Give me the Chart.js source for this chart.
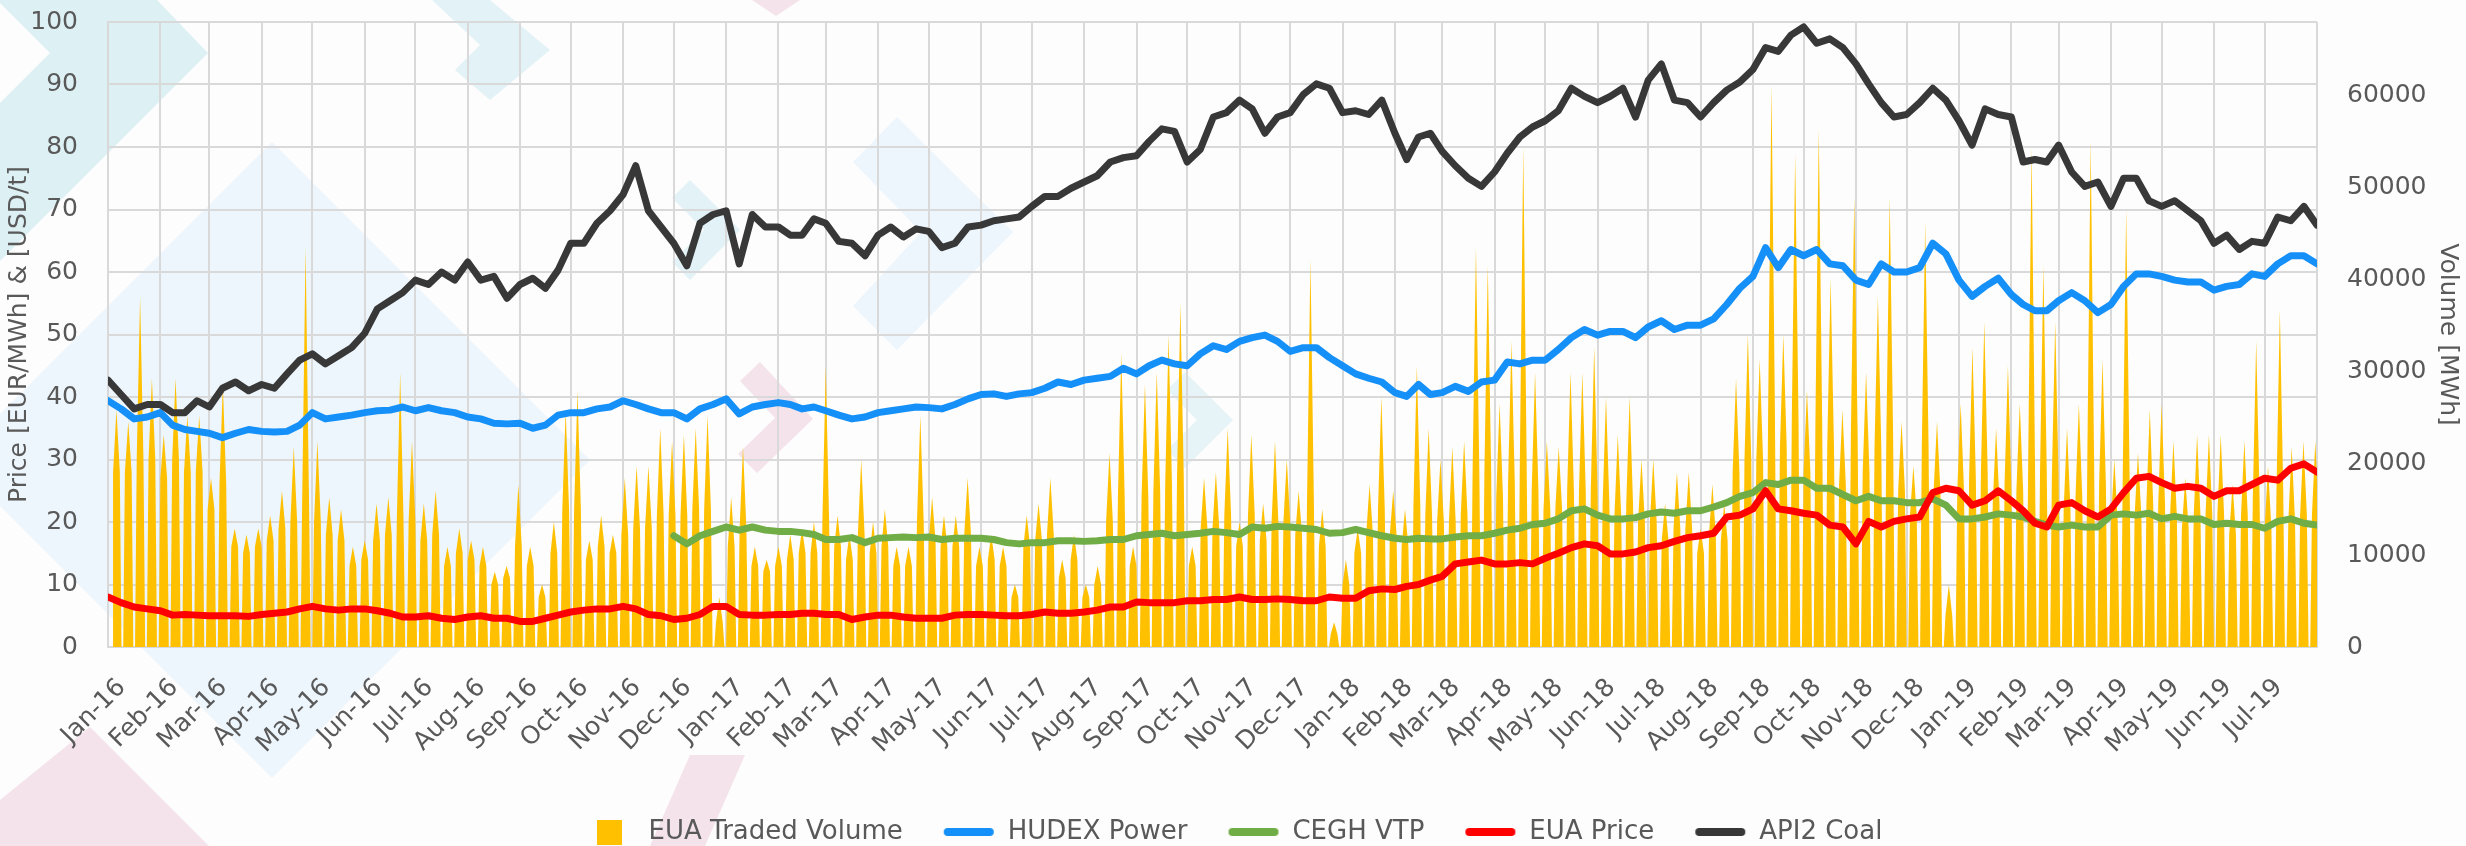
<!DOCTYPE html>
<html>
<head>
<meta charset="utf-8">
<title>EUA, power, gas and coal prices 2016-2019</title>
<script src="https://cdn.jsdelivr.net/npm/chart.js@4.4.1/dist/chart.umd.min.js"></script>
<style>
    html, body { margin: 0; padding: 0; background: #fdfdfd; }
    #wrap { position: relative; width: 2466px; height: 846px; }
</style>
</head>
<body>
<div id="wrap"><canvas id="marketChart"></canvas></div>
<script>
// month tick labels (one per month, Jan-16 .. Jul-19)
const tickLabels = [
    "Jan-16", "Feb-16", "Mar-16", "Apr-16", "May-16", "Jun-16", "Jul-16", "Aug-16", "Sep-16", "Oct-16", "Nov-16", "Dec-16",
    "Jan-17", "Feb-17", "Mar-17", "Apr-17", "May-17", "Jun-17", "Jul-17", "Aug-17", "Sep-17", "Oct-17", "Nov-17", "Dec-17",
    "Jan-18", "Feb-18", "Mar-18", "Apr-18", "May-18", "Jun-18", "Jul-18", "Aug-18", "Sep-18", "Oct-18", "Nov-18", "Dec-18",
    "Jan-19", "Feb-19", "Mar-19", "Apr-19", "May-19", "Jun-19", "Jul-19"
];

const volumeTicks = [0, 10000, 20000, 30000, 40000, 50000, 60000];

// prices, four readings per month (1st, ~8th, ~16th, ~23rd), last one = 1 Aug 2019
const apiCoal = [
    42.7, 40.4, 38.1, 38.8,  38.8, 37.5, 37.5, 39.4,  38.4, 41.4, 42.4, 41.0,  42.0, 41.4, 43.7, 45.9,
    46.9, 45.3, 46.6, 47.9,  50.2, 54.1, 55.4, 56.7,  58.7, 58.0, 60.0, 58.7,  61.6, 58.7, 59.3, 55.8,
    58.0, 59.0, 57.4, 60.3,  64.6, 64.6, 67.8, 69.8,  72.4, 77.0, 69.8, 67.2,  64.6, 61.0, 67.8, 69.2,
    69.8, 61.3, 69.2, 67.2,  67.2, 65.9, 65.9, 68.5,  67.8, 64.9, 64.6, 62.6,  65.9, 67.2, 65.6, 66.9,
    66.5, 63.9, 64.6, 67.2,  67.5, 68.2, 68.5, 68.8,  70.5, 72.1, 72.1, 73.4,  74.4, 75.4, 77.6, 78.3,
    78.6, 80.9, 82.9, 82.5,  77.6, 79.6, 84.8, 85.5,  87.5, 86.1, 82.2, 84.8,  85.5, 88.4, 90.1, 89.4,
    85.5, 85.8, 85.2, 87.5,  82.2, 78.0, 81.6, 82.2,  79.3, 77.0, 75.0, 73.7,  76.0, 79.0, 81.6, 83.2,
    84.2, 85.8, 89.4, 88.1,  87.1, 88.1, 89.4, 84.8,  90.7, 93.3, 87.5, 87.1,  84.8, 87.1, 89.1, 90.4,
    92.4, 95.9, 95.3, 97.9,  99.2, 96.6, 97.3, 95.9,  93.3, 90.1, 87.1, 84.8,  85.2, 87.1, 89.4, 87.5,
    84.2, 80.3, 86.1, 85.2,  84.8, 77.6, 78.0, 77.6,  80.3, 76.0, 73.7, 74.4,  70.5, 75.0, 75.0, 71.4,
    70.5, 71.4, 69.8, 68.2,  64.6, 65.9, 63.6, 64.9,  64.6, 68.8, 68.2, 70.5,
    67.5
];

const hudexPower = [
    39.4, 38.1, 36.5, 36.8,  37.5, 35.5, 34.8, 34.5,  34.2, 33.5, 34.2, 34.8,  34.5, 34.4, 34.5, 35.5,
    37.5, 36.5, 36.8, 37.1,  37.5, 37.8, 37.9, 38.4,  37.8, 38.3, 37.8, 37.5,  36.8, 36.5, 35.8, 35.7,
    35.8, 35.0, 35.5, 37.1,  37.5, 37.5, 38.1, 38.4,  39.4, 38.8, 38.1, 37.5,  37.5, 36.5, 38.1, 38.8,
    39.7, 37.3, 38.4, 38.8,  39.1, 38.8, 38.1, 38.4,  37.8, 37.1, 36.5, 36.8,  37.5, 37.8, 38.1, 38.4,
    38.3, 38.1, 38.8, 39.7,  40.4, 40.5, 40.1, 40.5,  40.7, 41.4, 42.4, 42.0,  42.7, 43.0, 43.3, 44.6,
    43.7, 45.0, 45.9, 45.3,  45.0, 46.9, 48.2, 47.6,  48.9, 49.5, 49.9, 48.9,  47.3, 47.9, 47.9, 46.3,
    45.0, 43.7, 43.0, 42.4,  40.7, 40.1, 42.0, 40.4,  40.7, 41.7, 40.9, 42.4,  42.7, 45.6, 45.3, 45.9,
    45.9, 47.6, 49.5, 50.8,  49.9, 50.5, 50.5, 49.5,  51.2, 52.2, 50.8, 51.5,  51.5, 52.5, 54.8, 57.4,
    59.3, 63.9, 60.7, 63.6,  62.6, 63.6, 61.3, 61.0,  58.7, 58.0, 61.3, 60.0,  60.0, 60.7, 64.6, 62.9,
    58.7, 56.1, 57.7, 59.0,  56.4, 54.8, 53.8, 53.8,  55.4, 56.7, 55.4, 53.5,  54.8, 57.7, 59.7, 59.7,
    59.3, 58.7, 58.4, 58.4,  57.1, 57.7, 58.0, 59.7,  59.3, 61.3, 62.6, 62.6,
    61.3
];

// CEGH VTP is only quoted from December 2016
const ceghVtp = [
    null, null, null, null,  null, null, null, null,  null, null, null, null,  null, null, null, null,
    null, null, null, null,  null, null, null, null,  null, null, null, null,  null, null, null, null,
    null, null, null, null,  null, null, null, null,  null, null, null, null,  17.8, 16.5, 17.8, 18.5,
    19.2, 18.7, 19.2, 18.7,  18.5, 18.5, 18.3, 18.0,  17.2, 17.2, 17.5, 16.7,  17.4, 17.5, 17.6, 17.5,
    17.6, 17.2, 17.4, 17.4,  17.4, 17.2, 16.7, 16.5,  16.7, 16.7, 17.0, 17.0,  16.9, 17.0, 17.2, 17.2,
    17.8, 18.0, 18.2, 17.8,  18.0, 18.2, 18.5, 18.3,  18.0, 19.2, 19.0, 19.3,  19.2, 19.0, 18.8, 18.2,
    18.3, 18.8, 18.3, 17.8,  17.4, 17.2, 17.4, 17.3,  17.3, 17.6, 17.8, 17.8,  18.2, 18.7, 19.0, 19.6,
    19.8, 20.5, 21.8, 22.1,  21.1, 20.5, 20.5, 20.7,  21.3, 21.6, 21.4, 21.8,  21.8, 22.4, 23.1, 24.1,
    24.7, 26.3, 26.0, 26.7,  26.7, 25.4, 25.4, 24.4,  23.4, 24.1, 23.4, 23.4,  23.1, 23.1, 23.7, 22.7,
    20.5, 20.5, 20.8, 21.3,  21.1, 20.8, 20.1, 19.5,  19.2, 19.5, 19.2, 19.2,  21.1, 21.3, 21.1, 21.4,
    20.5, 20.9, 20.5, 20.5,  19.6, 19.8, 19.6, 19.6,  19.0, 20.1, 20.5, 19.8,
    19.5
];

const euaPrice = [
    8.0, 7.1, 6.4, 6.1,  5.8, 5.1, 5.2, 5.1,  5.0, 5.0, 5.0, 4.9,  5.2, 5.4, 5.6, 6.1,
    6.5, 6.1, 5.9, 6.1,  6.1, 5.8, 5.4, 4.8,  4.8, 5.0, 4.6, 4.4,  4.8, 5.0, 4.6, 4.6,
    4.1, 4.1, 4.6, 5.1,  5.6, 5.9, 6.1, 6.1,  6.5, 6.1, 5.2, 5.0,  4.4, 4.6, 5.2, 6.5,
    6.5, 5.2, 5.1, 5.1,  5.2, 5.2, 5.4, 5.4,  5.2, 5.2, 4.4, 4.8,  5.1, 5.1, 4.8, 4.6,
    4.6, 4.6, 5.1, 5.2,  5.2, 5.1, 5.0, 5.0,  5.2, 5.6, 5.4, 5.4,  5.6, 5.9, 6.4, 6.4,
    7.2, 7.1, 7.1, 7.1,  7.4, 7.4, 7.6, 7.6,  8.0, 7.6, 7.6, 7.7,  7.6, 7.4, 7.4, 8.0,
    7.8, 7.8, 9.0, 9.3,  9.2, 9.7, 10.0, 10.7,  11.3, 13.3, 13.6, 13.9,  13.3, 13.3, 13.5, 13.3,
    14.2, 15.0, 15.9, 16.5,  16.2, 14.9, 14.9, 15.2,  15.9, 16.2, 16.9, 17.5,  17.8, 18.2, 20.8, 21.1,
    22.1, 25.0, 22.1, 21.8,  21.4, 21.1, 19.5, 19.2,  16.5, 20.1, 19.2, 20.1,  20.5, 20.8, 24.7, 25.4,
    25.0, 22.7, 23.4, 25.0,  23.4, 21.8, 19.8, 19.2,  22.7, 23.1, 21.8, 20.8,  22.1, 24.7, 27.0, 27.3,
    26.3, 25.4, 25.7, 25.4,  24.1, 25.0, 25.0, 26.0,  27.0, 26.7, 28.6, 29.3,
    28.0
];

// EUA traded volume [MWh], one week per entry starting Mon 4 Jan 2016:
// busiest day of the week and a typical day of the week
const euaVolumeHigh = [
    25800, 24500, 38100, 29200, 23100, 29200, 25200, 25200, 18400, 28600,
    12900, 12200, 12900, 14300, 17000, 21800, 43500, 22400, 16300, 15000,
    10900, 11600, 15600, 16300, 29900, 22400, 15600, 17000, 10900, 12900,
    11600, 10900, 8200, 8800, 17700, 10900, 6800, 13600, 25800, 27900,
    11600, 14300, 12200, 18400, 19700, 19700, 23800, 22400, 23100, 23800,
    25200, 5400, 16300, 21800, 10900, 9500, 10900, 12200, 12900, 13600,
    30600, 14300, 12200, 20400, 13600, 15000, 10900, 10900, 25200, 16300,
    14300, 14300, 18400, 10900, 12200, 10900, 6800, 14300, 15600, 18400,
    9500, 12200, 6800, 8800, 21100, 32000, 10900, 28600, 29900, 34000,
    37400, 10900, 18400, 19000, 23800, 13600, 23100, 15600, 22400, 20400,
    17000, 42200, 15000, 2700, 9500, 12900, 17700, 27200, 17000, 15000,
    30600, 23800, 20400, 21800, 22400, 43500, 41500, 26500, 33300, 54400,
    29900, 22400, 21800, 29900, 29900, 32600, 27200, 23100, 27200, 20400,
    20400, 15600, 19000, 19000, 12900, 17700, 15600, 29200, 34000, 31300,
    61200, 34000, 53700, 27900, 56400, 40100, 25800, 49000, 29900, 38100,
    49000, 24500, 19700, 46200, 24500, 6800, 26500, 32600, 35400, 23800,
    30600, 26500, 54400, 41500, 35400, 23800, 26500, 55100, 31300, 20400,
    47600, 21100, 25800, 26500, 22400, 18400, 23100, 23100, 23100, 17700,
    22400, 33300, 19700, 36700, 21800, 22400, 22400
];

const euaVolumeLow = [
    19000, 19000, 20400, 20400, 18400, 20400, 19000, 19000, 15000, 17700,
    10900, 10200, 10900, 11600, 12900, 13600, 16300, 13600, 12200, 11600,
    8800, 9500, 11600, 12200, 13600, 13600, 11600, 12200, 8800, 10200,
    9500, 8800, 6800, 7500, 10900, 8800, 5400, 10200, 15000, 15000,
    9500, 10900, 10200, 12200, 12900, 12900, 14300, 14300, 14300, 15000,
    15000, 2700, 10900, 12900, 8800, 8200, 8800, 9500, 10200, 10200,
    13600, 10900, 9500, 12200, 10200, 10900, 8800, 8800, 13600, 11600,
    10900, 10900, 12200, 8800, 9500, 8800, 5400, 10900, 11600, 12200,
    7500, 9500, 5400, 6800, 13600, 16300, 8800, 16300, 17000, 17700,
    18400, 8800, 12900, 12900, 14300, 10900, 14300, 11600, 13600, 13600,
    12200, 16300, 10900, 1400, 6800, 10200, 12200, 15000, 12200, 10900,
    15600, 14300, 13600, 13600, 14300, 19000, 19000, 16300, 17700, 20400,
    17000, 15000, 15000, 17000, 17000, 17000, 15600, 14300, 15600, 13600,
    13600, 11600, 12900, 12900, 10200, 12200, 11600, 19000, 20400, 20400,
    25800, 21800, 24500, 19000, 24500, 21800, 17700, 23100, 19000, 21800,
    23100, 17000, 14300, 21800, 17000, 3400, 17000, 18400, 19000, 15600,
    17700, 17000, 20400, 19000, 18400, 15000, 16300, 20400, 17700, 13600,
    19000, 14300, 15600, 15600, 14300, 12900, 14300, 14300, 14300, 12200,
    14300, 16300, 12900, 17000, 13600, 14300, 14300
];

// ---- helpers: x axis is "days since 1 Jan 2016"
const DAY = 86400000;
const ORIGIN = Date.UTC(2016, 0, 1);

function dayOf(y, m, d) {
    return Math.round((Date.UTC(y, m, d) - ORIGIN) / DAY);
}

function monthDay(k) {
    return dayOf(2016, k, 1);
}

const lastDay = monthDay(tickLabels.length);

function quarterPoints(values) {
    return values.map((v, k) => {
        const m = Math.floor(k / 4);
        const q = k % 4;
        const s = monthDay(m);
        const e = monthDay(m + 1);
        return { x: s + (e - s) * q / 4, y: v };
    });
}

// Mon..Fri traded, weekend empty
const firstMonday = dayOf(2016, 0, 4);
const volumePoints = [];
euaVolumeHigh.forEach((high, i) => {
    const mon = firstMonday + 7 * i;
    const low = euaVolumeLow[i];
    volumePoints.push(
        { x: mon, y: low },
        { x: mon + 2, y: high },
        { x: mon + 4, y: low },
        { x: mon + 5, y: 0 },
        { x: mon + 6, y: 0 }
    );
});

const monthTicks = tickLabels.map((t, k) => monthDay(k));
monthTicks.push(lastDay);

// legend symbols
function legendSquare(color) {
    const c = document.createElement("canvas");
    c.width = 25;
    c.height = 25;
    const g = c.getContext("2d");
    g.fillStyle = color;
    g.fillRect(0, 0, 25, 25);
    return c;
}

function legendLine(color) {
    const c = document.createElement("canvas");
    c.width = 52;
    c.height = 10;
    const g = c.getContext("2d");
    g.strokeStyle = color;
    g.lineWidth = 8;
    g.lineCap = "round";
    g.beginPath();
    g.moveTo(5, 5);
    g.lineTo(47, 5);
    g.stroke();
    return c;
}

const COLORS = {
    volume: "#FFC000",
    hudex: "#1490F8",
    cegh: "#70AD47",
    eua: "#FF0000",
    coal: "#383838"
};

const legendIcons = [
    legendSquare(COLORS.volume),
    legendLine(COLORS.hudex),
    legendLine(COLORS.cegh),
    legendLine(COLORS.eua),
    legendLine(COLORS.coal)
];

// faint background decoration of the original slide
const decoShapes = [
    { color: "#DDF0F4", pts: [[0, 0], [157, 0], [208, 53], [0, 261], [0, 103], [50, 53], [0, 3]] },
    { color: "#E2F2F6", pts: [[432, 0], [490, 0], [550, 50], [490, 100], [455, 70], [480, 45]] },
    { color: "#EEF6FD", pts: [[272, 142], [590, 460], [272, 778], [-46, 460]] },
    { color: "#EEF6FD", pts: [[897, 117], [1013, 232], [897, 350], [853, 306], [921, 232], [853, 162]] },
    { color: "#E2F2F6", pts: [[690, 180], [740, 230], [690, 280], [672, 262], [704, 230], [672, 198]] },
    { color: "#F4E3EA", pts: [[760, 362], [813, 419], [757, 473], [738, 454], [775, 418], [740, 381]] },
    { color: "#E6F4F8", pts: [[1185, 372], [1233, 420], [1185, 468], [1167, 450], [1197, 420], [1167, 390]] },
    { color: "#F4E3EA", pts: [[90, 727], [209, 846], [0, 846], [0, 800]] },
    { color: "#F4E3EA", pts: [[690, 755], [745, 755], [705, 846], [650, 846]] },
    { color: "#F4E3EA", pts: [[752, 0], [800, 0], [776, 16]] }
];

const decoPlugin = {
    id: "deco",
    beforeDraw(chart) {
        const ctx = chart.ctx;
        ctx.save();
        decoShapes.forEach((s) => {
            ctx.fillStyle = s.color;
            ctx.beginPath();
            s.pts.forEach((p, i) => (i ? ctx.lineTo(p[0], p[1]) : ctx.moveTo(p[0], p[1])));
            ctx.closePath();
            ctx.fill();
        });
        ctx.restore();
    }
};

Chart.defaults.font.family = "'DejaVu Sans', sans-serif";
Chart.defaults.font.size = 25;
Chart.defaults.color = "#595959";

const GRID = "#D9D9D9";

function priceLine(label, values, color, order) {
    return {
        type: "line",
        label: label,
        data: quarterPoints(values),
        yAxisID: "y",
        borderColor: color,
        backgroundColor: color,
        borderWidth: 7,
        pointRadius: 0,
        tension: 0,
        borderJoinStyle: "round",
        borderCapStyle: "round",
        spanGaps: false,
        order: order
    };
}

new Chart(document.getElementById("marketChart"), {
    type: "line",
    plugins: [decoPlugin],
    data: {
        datasets: [
            {
                label: "EUA Traded Volume",
                data: volumePoints,
                yAxisID: "y2",
                borderWidth: 0,
                borderColor: COLORS.volume,
                backgroundColor: COLORS.volume,
                fill: "origin",
                pointRadius: 0,
                tension: 0,
                order: 5
            },
            priceLine("HUDEX Power", hudexPower, COLORS.hudex, 4),
            priceLine("CEGH VTP", ceghVtp, COLORS.cegh, 3),
            priceLine("EUA Price", euaPrice, COLORS.eua, 2),
            priceLine("API2 Coal", apiCoal, COLORS.coal, 1)
        ]
    },
    options: {
        responsive: true,
        maintainAspectRatio: false,
        animation: false,
        layout: {
            padding: { top: 22, left: 4, right: 4, bottom: -9 }
        },
        plugins: {
            tooltip: { enabled: false },
            legend: {
                position: "bottom",
                labels: {
                    usePointStyle: true,
                    pointStyleWidth: 52,
                    padding: 40,
                    font: { size: 26 },
                    color: "#595959",
                    sort: (a, b) => a.datasetIndex - b.datasetIndex,
                    generateLabels: (chart) => {
                        const items = Chart.defaults.plugins.legend.labels.generateLabels(chart);
                        items.forEach((it) => {
                            it.pointStyle = legendIcons[it.datasetIndex];
                        });
                        return items;
                    }
                }
            }
        },
        scales: {
            x: {
                type: "linear",
                min: 0,
                max: lastDay,
                afterBuildTicks: (axis) => {
                    axis.ticks = monthTicks.map((v) => ({ value: v }));
                },
                afterFit: (axis) => {
                    axis.height = 132;
                    axis.paddingLeft = 0;
                    axis.paddingRight = 0;
                },
                ticks: {
                    autoSkip: false,
                    minRotation: 45,
                    maxRotation: 45,
                    padding: 26,
                    labelOffset: 14,
                    callback: (value) => {
                        const k = monthTicks.indexOf(value);
                        return k >= 0 && k < tickLabels.length ? tickLabels[k] : "";
                    }
                },
                grid: { color: GRID, lineWidth: 2, drawTicks: false },
                border: { color: GRID, width: 2 }
            },
            y: {
                position: "left",
                min: 0,
                max: 100,
                afterFit: (axis) => {
                    axis.width = 104;
                    axis.paddingTop = 0;
                    axis.paddingBottom = 0;
                },
                ticks: { stepSize: 10, padding: 30 },
                grid: { color: GRID, lineWidth: 2, drawTicks: false },
                border: { color: GRID, width: 2 },
                title: {
                    display: true,
                    text: "Price [EUR/MWh] & [USD/t]",
                    padding: 0,
                    font: { size: 25 }
                }
            },
            y2: {
                position: "right",
                min: 0,
                max: 68000,
                afterBuildTicks: (axis) => {
                    axis.ticks = volumeTicks.map((v) => ({ value: v }));
                },
                afterFit: (axis) => {
                    axis.width = 145;
                    axis.paddingTop = 0;
                    axis.paddingBottom = 0;
                },
                ticks: {
                    padding: 30,
                    callback: (value) => String(value)
                },
                grid: { drawOnChartArea: false, drawTicks: false },
                border: { display: false },
                title: {
                    display: true,
                    text: "Volume [MWh]",
                    padding: 0,
                    font: { size: 25 }
                }
            }
        }
    }
});
</script>
</body>
</html>
